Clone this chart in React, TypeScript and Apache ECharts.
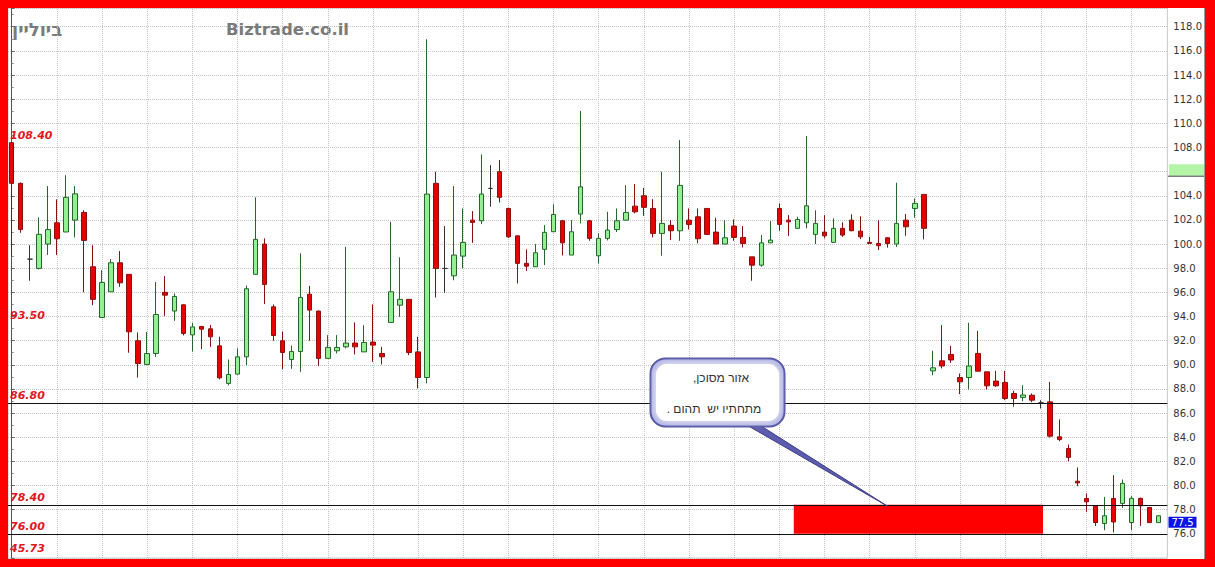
import React, { useEffect, useRef } from 'react';
import * as echarts from 'echarts';

// Daily candles, oldest first
const OPEN = [
  108.4, 105.03, 98.75, 97.98, 100.0, 101.76, 101.0, 101.98, 102.62, 98.12,
  93.92, 96.05, 98.45, 97.49, 91.99, 90.03, 90.94, 96.0, 94.45, 94.97,
  92.48, 93.18, 92.98, 91.57, 88.46, 89.23, 90.66, 97.49, 100.0, 94.8,
  91.99, 90.44, 91.1, 95.85, 94.45, 90.53, 91.16, 91.49, 91.8, 91.07,
  91.88, 90.94, 93.51, 94.94, 95.42, 91.07, 88.95, 105.03, 97.98, 97.37,
  99.0, 101.98, 101.93, 104.61, 105.99, 102.95, 100.68, 98.4, 98.12, 99.56,
  101.02, 101.93, 99.09, 102.48, 101.93, 99.03, 100.47, 101.2, 101.98, 103.14,
  104.0, 102.95, 100.88, 101.55, 101.1, 101.98, 102.26, 102.95, 100.99, 100.0,
  101.49, 100.55, 98.94, 98.25, 100.1, 102.95, 101.98, 101.3, 101.76, 100.8,
  100.99, 100.14, 101.3, 101.98, 101.07, 100.14, 100.05, 100.52, 100.0, 101.98,
  102.95, 104.11, 89.5, 90.33, 90.86, 88.95, 88.95, 90.94, 89.42, 88.65,
  88.54, 87.63, 87.3, 87.48, 86.85, 86.93, 84.04, 83.07, 80.36, 78.93,
  78.32, 76.86, 78.93, 78.52, 76.94, 78.94, 78.18, 76.93,
];
const CLOSE = [
  105.03, 101.2, 98.75, 100.8, 101.2, 100.44, 103.87, 104.16, 100.3, 95.42,
  96.82, 98.45, 96.79, 92.73, 90.11, 90.94, 94.17, 95.77, 95.66, 92.6,
  93.14, 92.95, 92.32, 88.92, 89.2, 90.66, 96.3, 100.39, 96.66, 92.43,
  91.02, 91.1, 95.58, 94.53, 90.53, 91.44, 91.44, 91.8, 91.49, 91.85,
  91.63, 90.66, 96.05, 95.42, 91.02, 88.95, 104.14, 97.98, 97.98, 99.09,
  100.14, 101.79, 104.14, 104.61, 103.87, 100.6, 98.4, 98.17, 99.28, 100.97,
  102.45, 100.1, 101.02, 104.74, 100.47, 100.47, 101.16, 101.93, 102.62, 102.67,
  103.04, 100.88, 101.71, 101.1, 104.86, 101.63, 100.44, 100.8, 100.0, 100.52,
  100.55, 100.05, 98.25, 100.1, 100.33, 101.63, 101.84, 102.04, 103.17, 101.71,
  100.68, 101.3, 100.74, 101.1, 100.6, 100.05, 99.86, 100.05, 101.71, 101.43,
  103.37, 101.3, 89.75, 89.9, 90.4, 88.59, 89.9, 89.47, 88.26, 88.26,
  87.21, 87.21, 87.5, 87.07, 86.85, 84.09, 83.81, 82.33, 80.22, 78.65,
  76.94, 77.5, 76.98, 80.18, 78.94, 78.32, 76.93, 77.5,
];
const LOW = [
  99.0, 100.93, 96.96, 97.9, 99.1, 99.1, 101.0, 100.55, 96.0, 94.94,
  93.92, 96.05, 96.46, 91.0, 88.95, 90.03, 90.66, 94.06, 93.64, 92.43,
  91.1, 91.3, 91.49, 88.8, 88.3, 89.2, 89.97, 97.49, 95.03, 91.99,
  89.64, 89.66, 89.42, 91.99, 89.91, 90.5, 90.94, 91.36, 90.86, 91.07,
  90.25, 90.03, 93.5, 93.97, 90.8, 88.04, 88.46, 95.58, 95.96, 97.0,
  97.98, 100.1, 101.65, 103.09, 103.45, 100.5, 96.74, 97.78, 98.1, 98.26,
  101.0, 99.06, 99.09, 101.71, 100.27, 98.4, 100.3, 101.0, 101.98, 102.54,
  102.34, 100.55, 99.03, 100.33, 100.27, 101.21, 100.06, 100.8, 100.0, 100.0,
  100.27, 99.72, 96.96, 98.12, 100.1, 101.1, 100.66, 101.3, 101.3, 100.0,
  100.47, 100.1, 100.6, 101.07, 100.41, 100.0, 99.5, 99.7, 99.77, 100.68,
  102.18, 100.39, 89.14, 89.7, 90.16, 87.57, 87.96, 89.47, 87.96, 88.17,
  87.07, 86.53, 87.0, 86.9, 86.38, 83.98, 83.68, 82.02, 79.95, 77.82,
  76.66, 76.3, 76.11, 78.15, 76.3, 76.66, 76.9, 76.93,
];
const HIGH = [
  108.4, 105.1, 99.9, 102.2, 104.8, 103.7, 105.7, 104.8, 102.8, 99.9,
  97.84, 98.75, 99.42, 97.49, 92.68, 92.73, 96.85, 97.35, 95.9, 95.0,
  93.48, 93.2, 93.3, 92.32, 90.44, 91.36, 96.57, 103.87, 100.47, 95.0,
  92.76, 91.6, 99.23, 96.54, 94.5, 92.46, 92.46, 99.77, 93.51, 93.29,
  95.0, 91.49, 101.84, 98.9, 95.42, 92.32, 116.96, 105.99, 101.49, 104.8,
  102.95, 102.73, 107.43, 106.54, 106.96, 103.0, 100.7, 99.56, 100.0, 101.57,
  103.29, 102.0, 101.98, 111.02, 102.0, 100.88, 102.67, 102.95, 104.88, 104.97,
  104.66, 103.72, 105.99, 101.98, 108.61, 102.95, 102.95, 102.95, 102.18, 101.98,
  102.04, 101.49, 98.94, 100.75, 101.9, 103.37, 102.4, 102.26, 108.94, 102.8,
  102.4, 102.13, 101.8, 102.46, 102.3, 100.6, 101.98, 100.55, 105.08, 102.48,
  103.78, 104.11, 91.16, 93.29, 91.57, 89.28, 93.48, 92.81, 89.42, 89.5,
  89.5, 87.85, 88.31, 87.63, 87.07, 88.59, 85.48, 83.4, 81.5, 79.34,
  78.32, 79.06, 80.86, 80.5, 79.12, 79.0, 78.23, 77.5,
];

// First session of each week (candle index) – vertical grid
const WEEK_STARTS = [
  5, 10, 15, 20, 25, 30, 35, 40, 45, 50, 55, 60, 65, 70, 75, 80, 85, 90,
  95, 100, 105, 110, 114, 119, 124,
];

// Marked price levels and their captions
const LEVEL_VALUES = [108.4, 93.5, 86.8, 78.4, 76.0];
const LEVEL_TEXT = ['108.40', '93.50', '86.80', '78.40', '76.00'];
const LEVEL_HAS_LINE = [false, false, true, true, true];
const FLOOR_TEXT = '45.73';

// Danger zone (candle index span, price span)
const ZONE_X = [86.6, 114.2];
const ZONE_Y = [76.0, 78.4];

const LAST_PRICE = 77.5;
const X_RANGE = [-0.41, 127.97];
const Y_RANGE = [74, 119.55];

const RED_LABEL = '#e5141c';

export default function App() {
  const ref = useRef<HTMLDivElement>(null);

  useEffect(() => {
    if (!ref.current) return;
    const chart = echarts.init(ref.current, null, { renderer: 'svg' });
    const candles = OPEN.map((o, i) => [i, o, CLOSE[i], LOW[i], HIGH[i]]);

    chart.setOption({
      animation: false,
      grid: {
        left: 0, top: 0, width: 1160, height: 550,
        show: true, borderColor: '#c8c8c8', borderWidth: 1,
      },
      xAxis: {
        type: 'value', min: X_RANGE[0], max: X_RANGE[1],
        axisLine: { show: false }, axisTick: { show: false },
        axisLabel: { show: false }, splitLine: { show: false },
      },
      yAxis: {
        type: 'value', position: 'right',
        min: Y_RANGE[0], max: Y_RANGE[1], interval: 2,
        axisLine: { show: true, lineStyle: { color: '#555', width: 1 } },
        axisTick: { show: true, length: 3, lineStyle: { color: '#666' } },
        minorTick: { show: true, splitNumber: 2, length: 2, lineStyle: { color: '#888' } },
        axisLabel: {
          color: '#333', fontSize: 10, fontFamily: 'DejaVu Sans', margin: 6,
          showMaxLabel: false,
          formatter: (v: number) => (v >= 76 && v % 2 === 0 ? v.toFixed(1) : ''),
        },
        splitLine: { show: true, lineStyle: { color: '#c4c4c4', type: 'dotted', width: 1 } },
      },
      series: [
        {
          type: 'line', data: [], z: 1, silent: true,
          markLine: {
            z: 1, silent: true, symbol: 'none', animation: false,
            label: { show: false },
            lineStyle: { color: '#c4c4c4', type: 'dotted', width: 1 },
            data: WEEK_STARTS.map((x) => ({ xAxis: x })),
          },
        },
        {
          type: 'candlestick', z: 2,
          data: candles,
          encode: { x: 0, y: [1, 2, 3, 4] },
          barWidth: 5,
          itemStyle: {
            color: '#92ef92', borderColor: '#23682a',
            color0: '#e80000', borderColor0: '#8a1010',
            borderColorDoji: '#333333', borderWidth: 1,
          },
          markArea: {
            z: 3, silent: true,
            itemStyle: { color: '#ff0000', opacity: 1 },
            label: { show: false },
            data: [[{ xAxis: ZONE_X[0], yAxis: ZONE_Y[0] }, { xAxis: ZONE_X[1], yAxis: ZONE_Y[1] }]],
          },
          markLine: {
            z: 4, silent: true, symbol: 'none', animation: false,
            data: LEVEL_VALUES.map((v, i) => ({
              yAxis: v,
              lineStyle: {
                color: LEVEL_HAS_LINE[i] ? '#111111' : 'rgba(0,0,0,0)',
                type: 'solid', width: 1,
              },
              label: {
                show: true, position: 'insideStartTop', distance: [2, 2],
                formatter: LEVEL_TEXT[i],
                color: RED_LABEL, fontSize: 11, fontWeight: 'bold', fontStyle: 'italic',
                fontFamily: 'DejaVu Sans',
              },
            })),
          },
        },
      ],
    });

    const lastY = chart.convertToPixel({ gridIndex: 0 }, [0, LAST_PRICE])[1];
    const hebrewFont = "'Liberation Sans', 'DejaVu Sans', sans-serif";

    chart.setOption({
      graphic: [
        {
          type: 'text', left: 4, top: 12,
          style: { text: 'ביוליין', fill: '#7a7a7a', font: "bold 18px 'DejaVu Sans'" },
        },
        {
          type: 'text', left: 218, top: 13,
          style: { text: 'Biztrade.co.il', fill: '#7a7a7a', font: "bold 16.5px 'DejaVu Sans'" },
        },
        {
          type: 'text', left: 2, top: 535,
          style: { text: FLOOR_TEXT, fill: RED_LABEL, font: "italic bold 11px 'DejaVu Sans'" },
        },
        // marker box on the price scale
        {
          type: 'rect', z: 100, shape: { x: 1161, y: 156.3, width: 36, height: 11.4 },
          style: { fill: '#b4f5a8' },
        },
        {
          type: 'line', z: 100, shape: { x1: 1160, y1: 168.2, x2: 1197, y2: 168.2 },
          style: { stroke: '#444', lineWidth: 1 },
        },
        // last price tag
        {
          type: 'rect', z: 100, shape: { x: 1160.5, y: lastY + 1, width: 28, height: 11 },
          style: { fill: '#0a14e6' },
        },
        {
          type: 'text', z: 101, x: 1174.5, y: lastY + 6.5,
          style: {
            text: String(LAST_PRICE), fill: '#ffffff', font: "10px 'DejaVu Sans'",
            align: 'center', verticalAlign: 'middle',
          },
        },
        // right edge of the panel
        {
          type: 'line', z: 100, shape: { x1: 1196.5, y1: 0, x2: 1196.5, y2: 551 },
          style: { stroke: '#9a9a9a', lineWidth: 1 },
        },
        // callout pointing at the zone
        {
          type: 'polygon', z: 110,
          shape: { points: [[737, 416], [750, 416], [880, 498.5]] },
          style: { fill: '#5c5cae', stroke: '#3c3c8c', lineWidth: 1 },
        },
        {
          type: 'rect', z: 111,
          shape: { x: 642.5, y: 350.5, width: 134, height: 68, r: 15 },
          style: { fill: '#aeb0e2', stroke: '#4d4fa2', lineWidth: 2 },
        },
        {
          type: 'rect', z: 112,
          shape: { x: 648, y: 356, width: 123, height: 57, r: 11 },
          style: { fill: '#ffffff', shadowBlur: 8, shadowColor: '#ffffff' },
        },
        {
          type: 'text', z: 113, x: 713, y: 370,
          style: {
            text: 'אזור מסוכן,\u200F', fill: '#333', font: `12px ${hebrewFont}`,
            align: 'center', verticalAlign: 'middle',
          },
        },
        {
          type: 'text', z: 113, x: 706, y: 401,
          style: {
            text: 'מתחתיו יש  תהום .\u200F', fill: '#333', font: `12px ${hebrewFont}`,
            align: 'center', verticalAlign: 'middle',
          },
        },
      ],
    });

    return () => chart.dispose();
  }, []);

  return (
    <div
      style={{
        position: 'fixed', left: 0, top: 0, width: 1215, height: 567,
        background: '#ff0000',
      }}
    >
      <div
        ref={ref}
        style={{
          position: 'absolute', left: 8, top: 8, width: 1197, height: 551,
          background: '#ffffff',
        }}
      />
    </div>
  );
}
